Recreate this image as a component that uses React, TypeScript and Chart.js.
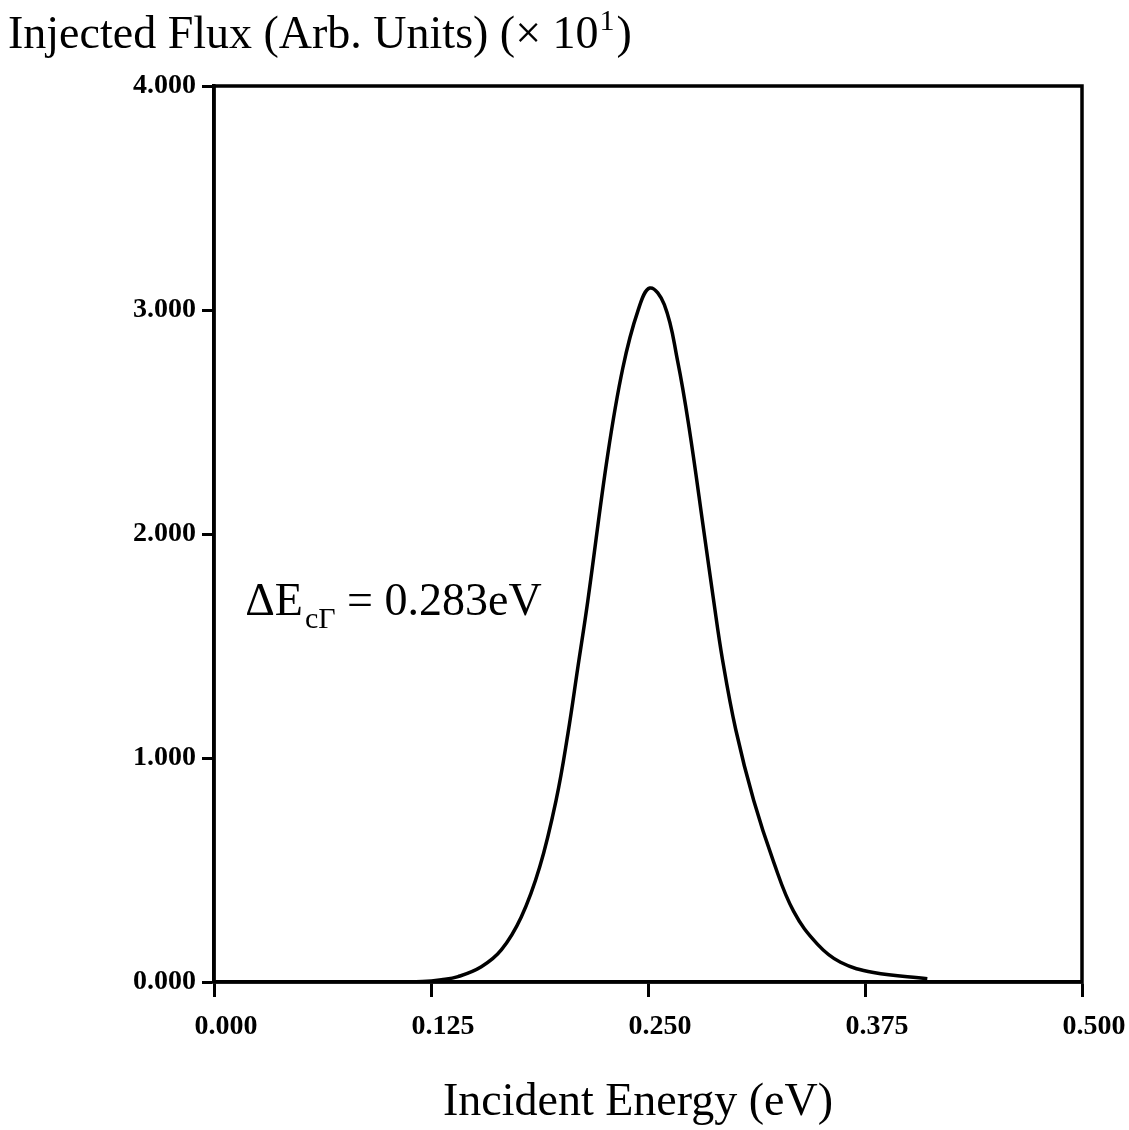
import React, { useEffect, useRef } from "react";
import { Chart, registerables } from "chart.js";

Chart.register(...registerables);

// Incident energy (eV)
const ENERGY = [
  0, 0.05, 0.1, 0.12, 0.131, 0.1406, 0.154, 0.1655, 0.177, 0.1876, 0.1971,
  0.2039, 0.2096, 0.2153, 0.2268, 0.2355, 0.2441, 0.2511, 0.2594, 0.2671,
  0.2737, 0.2824, 0.2875, 0.2929, 0.3006, 0.3109, 0.3224, 0.3339, 0.3477,
  0.3609, 0.3799, 0.4109,
];
// Injected flux (arb. units, x10)
const FLUX = [
  0, 0, 0, 0.002, 0.01, 0.024, 0.068, 0.143, 0.29, 0.513, 0.813, 1.11, 1.405,
  1.7, 2.354, 2.741, 2.994, 3.098, 3.024, 2.771, 2.473, 2.0, 1.72, 1.44,
  1.125, 0.81, 0.535, 0.315, 0.168, 0.088, 0.042, 0.015,
];

const X_TICKS = [0, 0.125, 0.25, 0.375, 0.5];
const Y_TICKS = [0, 1, 2, 3, 4];

const Y_TITLE = "Injected Flux (Arb. Units) (\u00d7 10";
const Y_TITLE_EXP = "1";
const Y_TITLE_END = ")";
const X_TITLE = "Incident Energy (eV)";

const ANNOT_MAIN = "\u0394E";
const ANNOT_SUB = "c\u0393";
const ANNOT_REST = " = 0.283eV";
const ANNOT_X = 0.018;
const ANNOT_Y = 1.64;

const SERIF = "'Liberation Serif', 'Times New Roman', serif";

const decorPlugin = {
  id: "decor",
  afterDraw(chart: any) {
    const ctx = chart.ctx as CanvasRenderingContext2D;
    const { left, right, top, bottom } = chart.chartArea;
    ctx.save();
    ctx.strokeStyle = "#000";
    ctx.lineWidth = 3.5;
    ctx.strokeRect(left, top, right - left, bottom - top);

    ctx.fillStyle = "#000";
    ctx.textBaseline = "alphabetic";
    ctx.textAlign = "left";

    // y title (top left)
    ctx.font = `46px ${SERIF}`;
    let x = 8;
    ctx.fillText(Y_TITLE, x, 48);
    x += ctx.measureText(Y_TITLE).width + 1;
    ctx.font = `30px ${SERIF}`;
    ctx.fillText(Y_TITLE_EXP, x, 30);
    x += ctx.measureText(Y_TITLE_EXP).width + 2;
    ctx.font = `46px ${SERIF}`;
    ctx.fillText(Y_TITLE_END, x, 48);

    // x title
    ctx.textAlign = "center";
    ctx.fillText(X_TITLE, (left + right) / 2 - 10, 1115);

    // annotation
    ctx.textAlign = "left";
    const ax = chart.scales.x.getPixelForValue(ANNOT_X);
    const ay = chart.scales.y.getPixelForValue(ANNOT_Y);
    let px = ax;
    ctx.font = `46px ${SERIF}`;
    ctx.fillText(ANNOT_MAIN, px, ay);
    px += ctx.measureText(ANNOT_MAIN).width + 2;
    ctx.font = `30px ${SERIF}`;
    ctx.fillText(ANNOT_SUB, px, ay + 13);
    px += ctx.measureText(ANNOT_SUB).width;
    ctx.font = `46px ${SERIF}`;
    ctx.fillText(ANNOT_REST, px, ay);
    ctx.restore();
  },
};

export default function App() {
  const ref = useRef<HTMLCanvasElement | null>(null);

  useEffect(() => {
    if (!ref.current) return;
    const tickFont = { family: SERIF, size: 28, weight: "bold" as const };
    const chart = new Chart(ref.current, {
      type: "line",
      data: {
        datasets: [
          {
            data: ENERGY.map((e, i) => ({ x: e, y: FLUX[i] })),
            borderColor: "#000",
            borderWidth: 3.5,
            pointRadius: 0,
            fill: false,
            tension: 0.4,
          },
        ],
      },
      options: {
        responsive: false,
        animation: false,
        devicePixelRatio: 1,
        layout: { padding: { top: 86, right: 47, bottom: 0, left: 0 } },
        plugins: {
          legend: { display: false },
          tooltip: { enabled: false },
          title: { display: false },
        },
        scales: {
          x: {
            type: "linear",
            min: 0,
            max: 0.5,
            afterBuildTicks(scale: any) {
              scale.ticks = X_TICKS.map((v) => ({ value: v }));
            },
            afterFit(scale: any) {
              scale.height = 148;
            },
            ticks: {
              color: "#000",
              font: tickFont,
              padding: 13,
              labelOffset: 12,
              maxRotation: 0,
              autoSkip: false,
              callback: (v: any) => Number(v).toFixed(3),
            },
            grid: {
              drawOnChartArea: false,
              drawTicks: true,
              tickLength: 15,
              tickWidth: 3,
              tickColor: "#000",
            },
            border: { display: true, color: "#000", width: 3.5 },
          },
          y: {
            type: "linear",
            min: 0,
            max: 4,
            afterBuildTicks(scale: any) {
              scale.ticks = Y_TICKS.map((v) => ({ value: v }));
            },
            afterFit(scale: any) {
              scale.width = 214;
            },
            ticks: {
              color: "#000",
              font: tickFont,
              padding: 6,
              autoSkip: false,
              callback: (v: any) => Number(v).toFixed(3),
            },
            grid: {
              drawOnChartArea: false,
              drawTicks: true,
              tickLength: 12,
              tickWidth: 3,
              tickColor: "#000",
            },
            border: { display: true, color: "#000", width: 3.5 },
          },
        },
      },
      plugins: [decorPlugin],
    });
    return () => chart.destroy();
  }, []);

  return (
    <div style={{ position: "absolute", left: 0, top: 0, width: 1129, height: 1130, background: "#fff" }}>
      <canvas ref={ref} width={1129} height={1130} style={{ display: "block" }} />
    </div>
  );
}
